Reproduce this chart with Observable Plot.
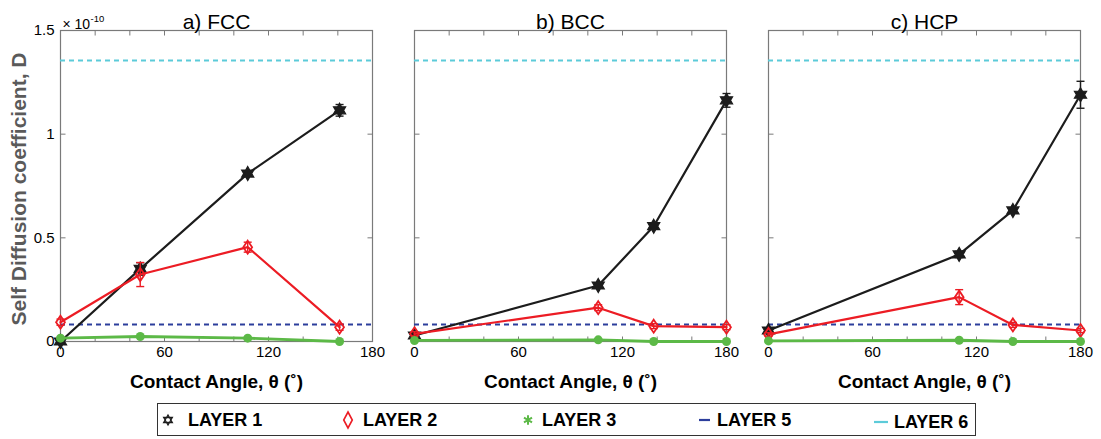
<!DOCTYPE html>
<html>
<head>
<meta charset="utf-8">
<script src="https://cdn.jsdelivr.net/npm/d3@7"></script>
<script src="https://cdn.jsdelivr.net/npm/@observablehq/plot@0.6"></script>
<style>
  body { margin: 0; background: #fff; font-family: "Liberation Sans", Arial, sans-serif; }
  #figure { position: relative; width: 1101px; height: 439px; overflow: hidden; }
  #figure svg.plot { position: absolute; left: 0; top: 0; }
  .legend { position: absolute; left: 157px; top: 403px; width: 817px; height: 31px; border: 1px solid #333; background: #fff; }
  .legend .item { position: absolute; top: 0; height: 31px; }
  .legend .item svg { position: absolute; top: 0; overflow: visible; }
  .legend .item span { position: absolute; top: 6px; white-space: nowrap; font-weight: bold; font-size: 18px; line-height: 20px; color: #000; }
</style>
</head>
<body>
<div id="figure"></div>
<script>
// Crystal structures, one panel each
const panels = ["a) FCC", "b) BCC", "c) HCP"];

// Contact angles (degrees) simulated for each structure
const anglesFCC = [0, 46, 108, 161];
const anglesBCC = [0, 106, 138, 180];
const anglesHCP = [0, 110, 141, 180];

// Self diffusion coefficient, units of 1e-10
const layer1FCC = [0.000, 0.350, 0.810, 1.115];
const layer1ErrFCC = [0.004, 0.030, 0.010, 0.028];
const layer2FCC = [0.093, 0.323, 0.455, 0.069];
const layer2ErrFCC = [0.015, 0.058, 0.024, 0.015];
const layer3FCC = [0.016, 0.024, 0.016, 0.000];

const layer1BCC = [0.029, 0.270, 0.556, 1.163];
const layer1ErrBCC = [0.004, 0.008, 0.010, 0.033];
const layer2BCC = [0.037, 0.163, 0.074, 0.069];
const layer2ErrBCC = [0.010, 0.014, 0.012, 0.012];
const layer3BCC = [0.005, 0.008, 0.000, 0.000];

const layer1HCP = [0.053, 0.420, 0.632, 1.190];
const layer1ErrHCP = [0.006, 0.015, 0.008, 0.065];
const layer2HCP = [0.034, 0.214, 0.080, 0.053];
const layer2ErrHCP = [0.008, 0.036, 0.012, 0.010];
const layer3HCP = [0.003, 0.006, 0.000, 0.000];

// Bulk reference levels (units of 1e-10)
const layer5 = 0.082;
const layer6 = 1.355;

// Axis ticks
const xTickLabels = [0, 60, 120, 180];
const xTicks = [0, 20, 40, 60, 80, 100, 120, 140, 160, 180];
const yTicks = [0, 0.5, 1, 1.5];

// Legend entries
const legendLabels = ["LAYER 1", "LAYER 2", "LAYER 3", "LAYER 5", "LAYER 6"];

const colors = {l1: "#1c1c1c", l2: "#ec1c24", l3: "#5cb947", l5: "#2c3e9c", l6: "#5ccbd9", frame: "#7a7a7a"};

function rowsFor(panel, angles, values, errs) {
  return angles.map((a, i) => ({panel, angle: a, value: values[i], err: errs ? errs[i] : 0}));
}

const layer1 = [
  ...rowsFor(panels[0], anglesFCC, layer1FCC, layer1ErrFCC),
  ...rowsFor(panels[1], anglesBCC, layer1BCC, layer1ErrBCC),
  ...rowsFor(panels[2], anglesHCP, layer1HCP, layer1ErrHCP)
];
const layer2 = [
  ...rowsFor(panels[0], anglesFCC, layer2FCC, layer2ErrFCC),
  ...rowsFor(panels[1], anglesBCC, layer2BCC, layer2ErrBCC),
  ...rowsFor(panels[2], anglesHCP, layer2HCP, layer2ErrHCP)
];
const layer3 = [
  ...rowsFor(panels[0], anglesFCC, layer3FCC),
  ...rowsFor(panels[1], anglesBCC, layer3BCC),
  ...rowsFor(panels[2], anglesHCP, layer3HCP)
];

// Custom symbols (size = π r²)
const rad = (s) => Math.sqrt(s / Math.PI);
const hexagram = {draw(c, s) {
  const r = rad(s);
  for (const off of [-Math.PI / 2, Math.PI / 2]) {
    for (let i = 0; i < 3; ++i) {
      const a = off + i * 2 * Math.PI / 3;
      const px = r * Math.cos(a), py = r * Math.sin(a);
      if (i) c.lineTo(px, py); else c.moveTo(px, py);
    }
    c.closePath();
  }
}};
const tallDiamond = {draw(c, s) {
  const r = rad(s);
  c.moveTo(0, -r); c.lineTo(r * 0.68, 0); c.lineTo(0, r); c.lineTo(-r * 0.68, 0); c.closePath();
}};
const cap = {draw(c, s) { const r = rad(s); c.moveTo(-r, 0); c.lineTo(r, 0); }};
const tickUp = {draw(c, s) { c.moveTo(0, 0); c.lineTo(0, -rad(s)); }};
const tickDown = {draw(c, s) { c.moveTo(0, 0); c.lineTo(0, rad(s)); }};
const tickRight = {draw(c, s) { c.moveTo(0, 0); c.lineTo(rad(s), 0); }};
const tickLeft = {draw(c, s) { c.moveTo(0, 0); c.lineTo(-rad(s), 0); }};

function errorBars(data, stroke) {
  return [
    Plot.ruleX(data, {fx: "panel", x: "angle", y1: d => d.value - d.err, y2: d => d.value + d.err, stroke, strokeWidth: 1.4}),
    Plot.dot(data, {fx: "panel", x: "angle", y: d => d.value - d.err, symbol: cap, r: 4, stroke, strokeWidth: 1.4}),
    Plot.dot(data, {fx: "panel", x: "angle", y: d => d.value + d.err, symbol: cap, r: 4, stroke, strokeWidth: 1.4})
  ];
}

const chart = Plot.plot({
  width: 1101,
  height: 396,
  marginLeft: 60,
  marginRight: 20,
  marginTop: 30,
  marginBottom: 55,
  style: {fontFamily: "'Liberation Sans', Arial, sans-serif", fontSize: "15px", color: "#000", background: "transparent", overflow: "visible"},
  fx: {domain: panels, padding: 0.1186, axis: null},
  x: {domain: [0, 180]},
  y: {domain: [0, 1.5]},
  marks: [
    // frame and inward ticks on all four sides
    Plot.frame({stroke: colors.frame, strokeWidth: 1.2}),
    Plot.dot(xTicks, {x: d => d, y: () => 0, symbol: tickUp, r: 5, stroke: colors.frame, strokeWidth: 1}),
    Plot.dot(xTicks, {x: d => d, y: () => 1.5, symbol: tickDown, r: 5, stroke: colors.frame, strokeWidth: 1}),
    Plot.dot(yTicks, {x: () => 0, y: d => d, symbol: tickRight, r: 5, stroke: colors.frame, strokeWidth: 1}),
    Plot.dot(yTicks, {x: () => 180, y: d => d, symbol: tickLeft, r: 5, stroke: colors.frame, strokeWidth: 1}),

    // tick labels
    Plot.axisX({ticks: xTickLabels, tickSize: 0, tickPadding: 5, label: null, fontSize: 15}),
    Plot.axisY({ticks: yTicks, tickSize: 0, tickPadding: 6, label: null, fontSize: 15, tickFormat: d => String(d)}),

    // reference levels
    Plot.ruleY([layer5], {y: d => d, stroke: colors.l5, strokeWidth: 2, strokeDasharray: "5,4"}),
    Plot.ruleY([layer6], {y: d => d, stroke: colors.l6, strokeWidth: 2, strokeDasharray: "5,4"}),

    // layer 1
    Plot.line(layer1, {fx: "panel", x: "angle", y: "value", stroke: colors.l1, strokeWidth: 2.2}),
    ...errorBars(layer1, colors.l1),
    Plot.dot(layer1, {fx: "panel", x: "angle", y: "value", symbol: hexagram, r: 7, fill: colors.l1, stroke: colors.l1, strokeWidth: 1.2}),

    // layer 2
    Plot.line(layer2, {fx: "panel", x: "angle", y: "value", stroke: colors.l2, strokeWidth: 2.2}),
    ...errorBars(layer2, colors.l2),
    Plot.dot(layer2, {fx: "panel", x: "angle", y: "value", symbol: tallDiamond, r: 6.5, fill: "none", stroke: colors.l2, strokeWidth: 1.8}),

    // layer 3
    Plot.line(layer3, {fx: "panel", x: "angle", y: "value", stroke: colors.l3, strokeWidth: 2.8}),
    Plot.dot(layer3, {fx: "panel", x: "angle", y: "value", r: 4.5, fill: colors.l3}),

    // panel titles, axis titles and exponent
    Plot.text(panels, {fx: d => d, text: d => d, frameAnchor: "top", dy: -16, fontSize: 21}),
    Plot.text(panels, {fx: d => d, text: () => "Contact Angle, θ (˚)", frameAnchor: "bottom", dy: 46, fontSize: 19, fontWeight: "bold"}),
    Plot.text([panels[0]], {fx: d => d, text: () => "Self Diffusion coefficient, D", frameAnchor: "left", textAnchor: "middle", rotate: -90, dx: -41, dy: 3, fontSize: 21, fontWeight: "bold", fill: "#5a5a5a"}),
    Plot.text([panels[0]], {fx: d => d, text: () => "× 10", frameAnchor: "top-left", textAnchor: "start", dx: 2, dy: -11, fontSize: 14}),
    Plot.text([panels[0]], {fx: d => d, text: () => "-10", frameAnchor: "top-left", textAnchor: "start", dx: 30, dy: -15, fontSize: 9.5})
  ]
});

const figure = document.getElementById("figure");
figure.appendChild(chart);

// Legend beneath the panels
const legend = document.createElement("div");
legend.className = "legend";
const legendSymbolX = [10, 190, 370, 546, 723];
const legendTextX = [30, 205, 384, 559, 736];
const legendShift = [0, 0, 0, 0, 2];
const ns = "http://www.w3.org/2000/svg";
const legendGlyphs = [
  (g) => { const p = document.createElementNS(ns, "path"); p.setAttribute("d", d3.symbol(hexagram, Math.PI * 5 * 5)()); p.setAttribute("fill", "none"); p.setAttribute("stroke", colors.l1); p.setAttribute("stroke-width", "1.3"); g.appendChild(p); },
  (g) => { const p = document.createElementNS(ns, "path"); p.setAttribute("d", "M0,-8L4.3,0L0,8L-4.3,0Z"); p.setAttribute("fill", "none"); p.setAttribute("stroke", colors.l2); p.setAttribute("stroke-width", "1.6"); g.appendChild(p); },
  (g) => { const p = document.createElementNS(ns, "path"); p.setAttribute("d", d3.symbol(d3.symbolAsterisk, 60)()); p.setAttribute("fill", "none"); p.setAttribute("stroke", colors.l3); p.setAttribute("stroke-width", "2"); g.appendChild(p); },
  (g) => { const p = document.createElementNS(ns, "line"); p.setAttribute("x1", -5); p.setAttribute("x2", 6); p.setAttribute("stroke", colors.l5); p.setAttribute("stroke-width", "2.2"); g.appendChild(p); },
  (g) => { const p = document.createElementNS(ns, "line"); p.setAttribute("x1", -7); p.setAttribute("x2", 7); p.setAttribute("stroke", colors.l6); p.setAttribute("stroke-width", "2.2"); g.appendChild(p); }
];
legendLabels.forEach((label, i) => {
  const item = document.createElement("div");
  item.className = "item";
  item.style.left = "0px";
  const svg = document.createElementNS(ns, "svg");
  svg.setAttribute("width", 20);
  svg.setAttribute("height", 31);
  svg.style.left = (legendSymbolX[i] - 10) + "px";
  const g = document.createElementNS(ns, "g");
  g.setAttribute("transform", `translate(10,${16 + legendShift[i]})`);
  legendGlyphs[i](g);
  svg.appendChild(g);
  const span = document.createElement("span");
  span.textContent = label;
  span.style.left = legendTextX[i] + "px";
  span.style.top = (6 + legendShift[i]) + "px";
  item.appendChild(svg);
  item.appendChild(span);
  legend.appendChild(item);
});
figure.appendChild(legend);
</script>
</body>
</html>
